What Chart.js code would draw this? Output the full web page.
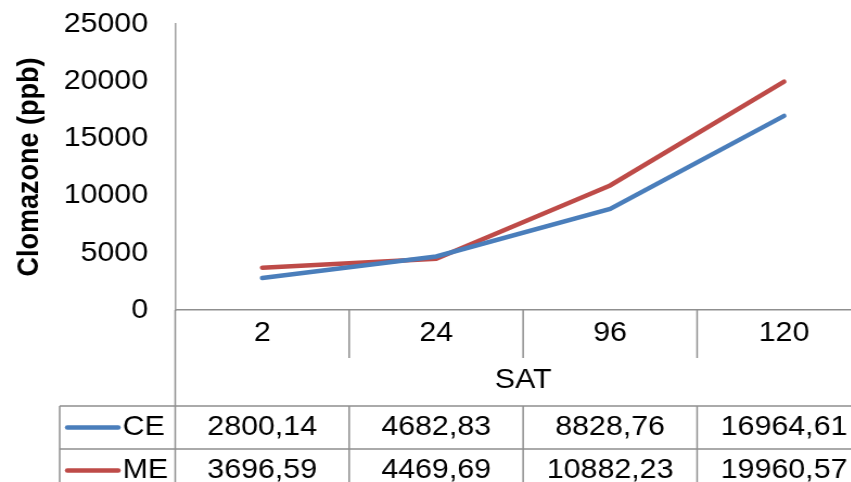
<!DOCTYPE html>
<html>
<head>
<meta charset="utf-8">
<script src="https://cdn.jsdelivr.net/npm/chart.js@4/dist/chart.umd.min.js"></script>
<style>
    html, body { margin: 0; padding: 0; background: #fff; overflow: hidden; }
    #wrap { width: 810px; height: 482px; transform: scaleX(1.085); transform-origin: 0 0; }
</style>
</head>
<body>
<div id="wrap"><canvas id="clomazoneChart" width="810" height="482"></canvas></div>
<script>
const categories = ['2', '24', '96', '120'];
const ceValues = [2800.14, 4682.83, 8828.76, 16964.61];
const meValues = [3696.59, 4469.69, 10882.23, 19960.57];
const yTicks = [0, 5000, 10000, 15000, 20000, 25000];

const blue = '#4A7EBB';
const red = '#BE4B48';
const lineGray = '#8f8f8f';
const fontFamily = '"Liberation Sans", Arial, sans-serif';

const tableRows = [
    { label: 'CE', values: ceValues, color: blue },
    { label: 'ME', values: meValues, color: red }
];

// Excel-style data table under the x axis: tick lines, legend keys and values
const dataTable = {
    id: 'dataTable',
    afterDraw(chart) {
        const { ctx, chartArea, scales: { x } } = chart;
        const half = (x.getPixelForValue(1) - x.getPixelForValue(0)) / 2;
        const edges = categories.map((c, i) => x.getPixelForValue(i) - half);
        const top = chartArea.bottom;
        const bottom = chart.height;
        const rowTops = [406, 449];
        const rowHeight = 43;
        const left = 55;

        ctx.save();
        ctx.strokeStyle = lineGray;
        ctx.lineWidth = 1.5;
        ctx.beginPath();
        ctx.moveTo(edges[0], top);
        ctx.lineTo(edges[0], bottom);
        edges.slice(1).forEach(e => {
            ctx.moveTo(e, top);
            ctx.lineTo(e, top + 48);
            ctx.moveTo(e, rowTops[0]);
            ctx.lineTo(e, bottom);
        });
        ctx.moveTo(left, rowTops[0]);
        ctx.lineTo(left, bottom);
        rowTops.forEach(y => {
            ctx.moveTo(left, y);
            ctx.lineTo(chartArea.right, y);
        });
        ctx.stroke();

        ctx.font = `28px ${fontFamily}`;
        ctx.fillStyle = '#000';
        ctx.textBaseline = 'middle';
        tableRows.forEach((row, r) => {
            const cy = rowTops[r] + rowHeight / 2;
            ctx.strokeStyle = row.color;
            ctx.lineWidth = 4.5;
            ctx.lineCap = 'round';
            ctx.beginPath();
            ctx.moveTo(62, cy);
            ctx.lineTo(109, cy);
            ctx.stroke();
            ctx.textAlign = 'left';
            ctx.fillText(row.label, 113, cy);
            ctx.textAlign = 'center';
            row.values.forEach((v, i) => {
                ctx.fillText(v.toFixed(2).replace('.', ','), x.getPixelForValue(i), cy);
            });
        });
        ctx.restore();
    }
};

Chart.defaults.font.family = fontFamily;
Chart.defaults.font.size = 28;
Chart.defaults.color = '#000';

const config = {
    type: 'line',
    data: {
        labels: categories,
        datasets: [{
            label: 'CE',
            data: ceValues,
            borderColor: blue,
            borderWidth: 4.5,
            borderCapStyle: 'round',
            pointRadius: 0,
            tension: 0,
            fill: false
        }, {
            label: 'ME',
            data: meValues,
            borderColor: red,
            borderWidth: 4.5,
            borderCapStyle: 'round',
            pointRadius: 0,
            tension: 0,
            fill: false
        }]
    },
    options: {
        responsive: false,
        animation: false,
        layout: { padding: { top: 24, right: 7.2, left: 0, bottom: 0 } },
        plugins: {
            legend: { display: false },
            tooltip: { enabled: false }
        },
        scales: {
            x: {
                offset: true,
                grid: { drawOnChartArea: false, drawTicks: false },
                border: { color: lineGray, width: 1.5 },
                ticks: { padding: 6, maxRotation: 0 },
                title: {
                    display: true,
                    text: 'SAT',
                    padding: { top: 0, bottom: 85 }
                },
                afterFit: scale => { scale.height = 172; }
            },
            y: {
                min: 0,
                max: 25000,
                afterBuildTicks: scale => { scale.ticks = yTicks.map(v => ({ value: v })); },
                // invisible tick marks keep the labels clear of the axis line
                grid: { drawOnChartArea: false, drawTicks: true, tickLength: 25, tickColor: 'rgba(0,0,0,0)' },
                border: { color: '#a0a0a0', width: 1.5 },
                ticks: { padding: 0, callback: value => String(value) },
                title: {
                    display: true,
                    text: 'Clomazone (ppb)',
                    font: { weight: 'bold', size: 27 },
                    padding: { top: 11, bottom: 0 }
                },
                afterFit: scale => { scale.width = 161.5; }
            }
        }
    },
    plugins: [dataTable]
};

const chart = new Chart(document.getElementById('clomazoneChart'), config);
</script>
</body>
</html>
